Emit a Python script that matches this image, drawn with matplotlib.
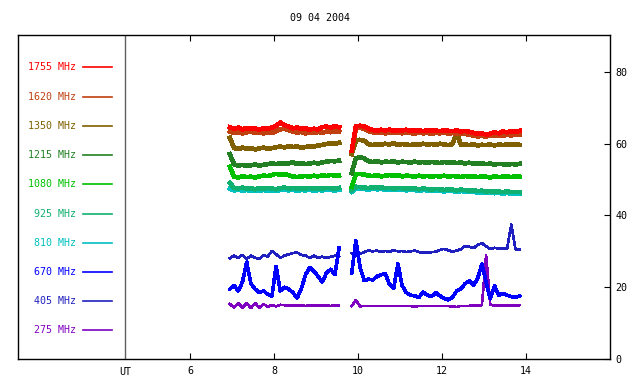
import numpy as np
import matplotlib
matplotlib.use('Agg')
import matplotlib.pyplot as plt

# ── data ─────────────────────────────────────────────────────────────────────
t_am = np.round(np.arange(6.95, 9.56, 0.1), 2)    # first block of samples (UT hours)
t_pm = np.round(np.arange(9.85, 13.86, 0.1), 2)   # second block

freqs  = ['1755', '1620', '1350', '1215', '1080', '925', '810', '670', '405', '275']
colors = ['#ff0000', '#c04010', '#806000', '#228022', '#00c000',
          '#10b070', '#00c0c0', '#0000ff', '#2020c0', '#8000c0']

f1755_am = [64.6, 64.2, 64.5, 64.0, 64.4, 64.1, 64.3, 63.9, 64.4, 64.2, 64.5, 65.0, 65.9, 65.2,
            64.8, 64.3, 64.5, 64.1, 64.3, 63.9, 64.2, 64.0, 64.6, 64.8, 64.5, 64.9, 64.6]
f1755_pm = [58.0, 64.9, 65.0, 64.8, 64.2, 63.8, 63.6, 63.9, 63.7, 63.9, 63.6, 63.8, 63.7, 63.9,
            63.6, 63.8, 63.7, 63.5, 63.8, 63.6, 63.7, 63.5, 63.8, 63.6, 63.5, 63.7, 63.4, 63.6,
            63.3, 63.0, 62.7, 62.9, 62.5, 62.8, 63.2, 62.9, 63.4, 63.2, 63.5, 63.3, 63.6]

f1620_am = [63.4, 63.0, 63.3, 62.9, 63.2, 63.4, 63.0, 63.3, 62.9, 63.2, 63.0, 63.5, 64.0, 64.2,
            63.8, 63.4, 63.1, 63.3, 62.9, 63.2, 63.0, 63.3, 63.1, 63.4, 63.2, 63.5, 63.3]
f1620_pm = [58.0, 64.3, 64.4, 64.2, 63.5, 63.2, 63.0, 63.2, 62.9, 63.1, 63.0, 63.2, 62.9, 63.1,
            63.0, 62.8, 63.1, 62.9, 63.0, 62.8, 63.0, 62.9, 63.1, 62.8, 63.0, 62.7, 62.9, 62.8,
            62.5, 62.3, 62.0, 62.2, 62.0, 62.3, 62.1, 62.4, 62.2, 62.5, 62.3, 62.6, 62.5]

f1350_am = [61.6, 58.8, 58.5, 58.9, 58.6, 58.8, 58.4, 58.7, 58.9, 58.6, 58.8, 59.0, 59.2, 59.0,
            59.3, 59.1, 59.2, 58.9, 59.1, 59.3, 59.2, 59.5, 59.7, 59.9, 60.2, 60.0, 60.3]
f1350_pm = [57.1, 60.9, 61.1, 60.8, 59.9, 59.6, 59.9, 59.7, 60.0, 59.8, 60.1, 59.7, 59.9, 59.8,
            59.6, 59.9, 59.7, 60.0, 59.8, 59.9, 59.7, 60.0, 59.8, 59.6, 59.9, 63.0, 59.7, 59.8,
            59.6, 59.9, 59.5, 59.7, 59.6, 59.8, 59.5, 59.8, 59.6, 59.9, 59.7, 59.8, 59.7]

f1215_am = [57.1, 54.2, 53.9, 54.1, 53.8, 54.0, 54.2, 53.9, 54.1, 54.3, 54.5, 54.3, 54.6, 54.4,
            54.5, 54.8, 54.4, 54.6, 54.3, 54.5, 54.7, 54.5, 54.8, 55.0, 55.2, 55.1, 55.3]
f1215_pm = [51.8, 56.0, 56.2, 55.9, 55.1, 54.9, 55.1, 54.8, 55.0, 54.9, 55.1, 54.8, 55.0, 54.9,
            54.7, 55.0, 54.8, 54.9, 54.7, 54.9, 54.8, 54.6, 54.9, 54.7, 54.8, 54.6, 54.8, 54.5,
            54.7, 54.5, 54.4, 54.6, 54.3, 54.5, 54.2, 54.4, 54.3, 54.1, 54.4, 54.2, 54.4]

f1080_am = [53.6, 50.8, 50.6, 50.9, 50.7, 50.8, 50.6, 50.9, 51.1, 51.0, 51.3, 51.6, 51.4, 51.5,
            51.2, 50.9, 50.7, 50.9, 51.0, 50.8, 51.1, 50.9, 51.2, 51.0, 51.3, 51.1, 51.2]
f1080_pm = [48.0, 51.5, 51.6, 51.4, 51.1, 51.0, 51.2, 50.9, 51.1, 51.3, 51.0, 51.2, 50.9, 51.1,
            51.0, 50.8, 51.1, 50.9, 51.0, 50.8, 51.0, 50.9, 51.1, 50.8, 51.0, 50.9, 50.7, 51.0,
            50.8, 50.9, 50.7, 50.9, 50.8, 50.6, 50.9, 50.7, 50.8, 50.9, 50.7, 50.9, 50.8]

f925_am = [49.0, 47.7, 47.5, 47.8, 47.4, 47.6, 47.3, 47.6, 47.4, 47.7, 47.5, 47.3, 47.6, 47.8,
           47.5, 47.7, 47.4, 47.6, 47.5, 47.7, 47.4, 47.6, 47.5, 47.7, 47.6, 47.5, 47.7]
f925_pm = [47.0, 48.0, 47.9, 47.8, 47.6, 47.9, 47.7, 47.8, 47.6, 47.7, 47.5, 47.7, 47.6, 47.4,
           47.6, 47.5, 47.3, 47.5, 47.4, 47.2, 47.4, 47.3, 47.1, 47.3, 47.2, 47.0, 47.2, 47.1,
           46.9, 47.0, 46.8, 46.9, 46.7, 46.8, 46.6, 46.7, 46.5, 46.7, 46.5, 46.6, 46.5]

f810_am = [47.5, 47.0, 47.2, 46.9, 47.1, 46.8, 47.0, 46.9, 47.1, 46.8, 47.0, 46.9, 47.1, 47.3,
           47.0, 47.2, 46.9, 47.1, 47.0, 47.2, 46.9, 47.1, 47.0, 47.2, 47.1, 47.0, 47.2]
f810_pm = [46.6, 47.6, 47.5, 47.4, 47.2, 47.5, 47.3, 47.4, 47.2, 47.3, 47.1, 47.3, 47.2, 47.0,
           47.2, 47.1, 46.9, 47.1, 47.0, 46.8, 47.0, 46.9, 46.7, 46.9, 46.8, 46.6, 46.8, 46.7,
           46.5, 46.6, 46.4, 46.5, 46.3, 46.4, 46.2, 46.3, 46.1, 46.3, 46.1, 46.2, 46.1]

f670_am = [19.5, 20.5, 19.0, 21.5, 27.0, 21.0, 19.5, 18.5, 19.0, 18.0, 17.5, 25.8, 19.0, 20.0,
           19.5, 18.5, 17.0, 19.5, 23.5, 25.5, 24.5, 23.0, 21.5, 24.0, 25.0, 23.5, 31.0]
f670_pm = [23.9, 33.0, 25.5, 21.8, 22.3, 22.0, 23.0, 23.5, 23.8, 20.8, 19.8, 26.5, 20.5, 18.5,
           17.8, 17.6, 17.2, 18.6, 17.8, 17.4, 18.5, 17.6, 16.9, 16.5, 17.2, 19.0, 19.5, 21.0,
           21.8, 20.5, 22.5, 26.5, 21.4, 16.8, 20.4, 17.8, 18.3, 17.8, 17.4, 17.2, 17.6]

f405_am = [28.1, 28.8, 28.2, 29.0, 27.9, 28.8, 28.2, 27.9, 29.0, 28.5, 30.1, 29.2, 28.2, 28.8,
           29.2, 29.5, 29.7, 29.0, 28.8, 28.2, 28.8, 28.2, 28.5, 28.2, 28.5, 28.8, 28.5]
f405_pm = [29.5, 29.0, 29.3, 29.8, 30.3, 30.0, 30.2, 29.8, 30.1, 29.9, 30.3, 30.0, 30.1, 29.8,
           30.0, 30.2, 29.8, 29.7, 29.6, 29.8, 29.9, 30.4, 30.7, 30.3, 29.9, 30.2, 30.6, 31.5,
           31.3, 30.9, 31.8, 32.3, 31.4, 30.6, 31.0, 30.8, 30.9, 30.7, 37.5, 30.6, 30.5]

f275_am = [15.3, 14.3, 15.5, 14.3, 15.6, 14.2, 15.6, 14.3, 15.3, 14.6, 15.0, 14.7, 15.1, 15.0,
           14.9, 14.9, 14.9, 14.9, 14.8, 14.9, 14.9, 14.8, 14.9, 14.9, 14.8, 14.9, 14.9]
f275_pm = [14.8, 16.4, 14.7, 14.8, 14.8, 14.8, 14.8, 14.8, 14.8, 14.8, 14.8, 14.8, 14.8, 14.8,
           14.8, 14.5, 14.8, 14.8, 14.8, 14.8, 14.8, 14.8, 14.8, 14.8, 14.6, 14.5, 14.8, 14.8,
           14.8, 14.9, 14.9, 15.0, 28.9, 15.1, 14.9, 14.9, 15.0, 15.0, 15.0, 14.9, 15.0]

series = {
    '1755': (f1755_am, f1755_pm), '1620': (f1620_am, f1620_pm),
    '1350': (f1350_am, f1350_pm), '1215': (f1215_am, f1215_pm),
    '1080': (f1080_am, f1080_pm), '925': (f925_am, f925_pm),
    '810': (f810_am, f810_pm), '670': (f670_am, f670_pm),
    '405': (f405_am, f405_pm), '275': (f275_am, f275_pm),
}

# ── figure ───────────────────────────────────────────────────────────────────
plt.rcParams['font.family'] = 'DejaVu Sans Mono'
FS = 7.2

fig = plt.figure(figsize=(6.4, 3.84), dpi=100)
ax = fig.add_axes([18/640, 25/384, 592/640, 324/384])
ax.set_xlim(1.905, 16.0)
ax.set_ylim(0, 90.3)

UT_X = 4.452
ax.axvline(UT_X, color='#606060', lw=1)

# low frequencies first so the high ones sit on top
for name, c in list(zip(freqs, colors))[::-1]:
    am, pm = series[name]
    lw = 2.6 if int(name) >= 810 else (1.9 if name == '670' else 1.2)
    ax.plot(t_am, am, color=c, lw=lw, antialiased=False)
    ax.plot(t_pm, pm, color=c, lw=lw, antialiased=False)

# legend column on the left of the UT line
for i, (name, c) in enumerate(zip(freqs, colors)):
    y = 81.3 - 8.15 * i
    ax.text(3.29, y, f'{name} MHz', color=c, fontsize=FS, ha='right', va='center')
    ax.plot([3.45, 4.14], [y, y], color=c, lw=1.2)

ax.text(UT_X, -2.2, 'UT', fontsize=FS, ha='center', va='top')

ax.set_xticks([6, 8, 10, 12, 14])
ax.set_yticks([0, 20, 40, 60, 80])
ax.yaxis.tick_right()
ax.tick_params(axis='x', direction='in', length=4, top=True, labelsize=FS, pad=5)
ax.tick_params(axis='y', direction='in', length=4, left=False, right=True, labelsize=FS, pad=4)
for s in ax.spines.values():
    s.set_linewidth(1.0)

fig.text(0.5, 1 - 18/384, '09 04 2004', fontsize=FS, ha='center', va='center')

fig.savefig('out.png', dpi=100)
